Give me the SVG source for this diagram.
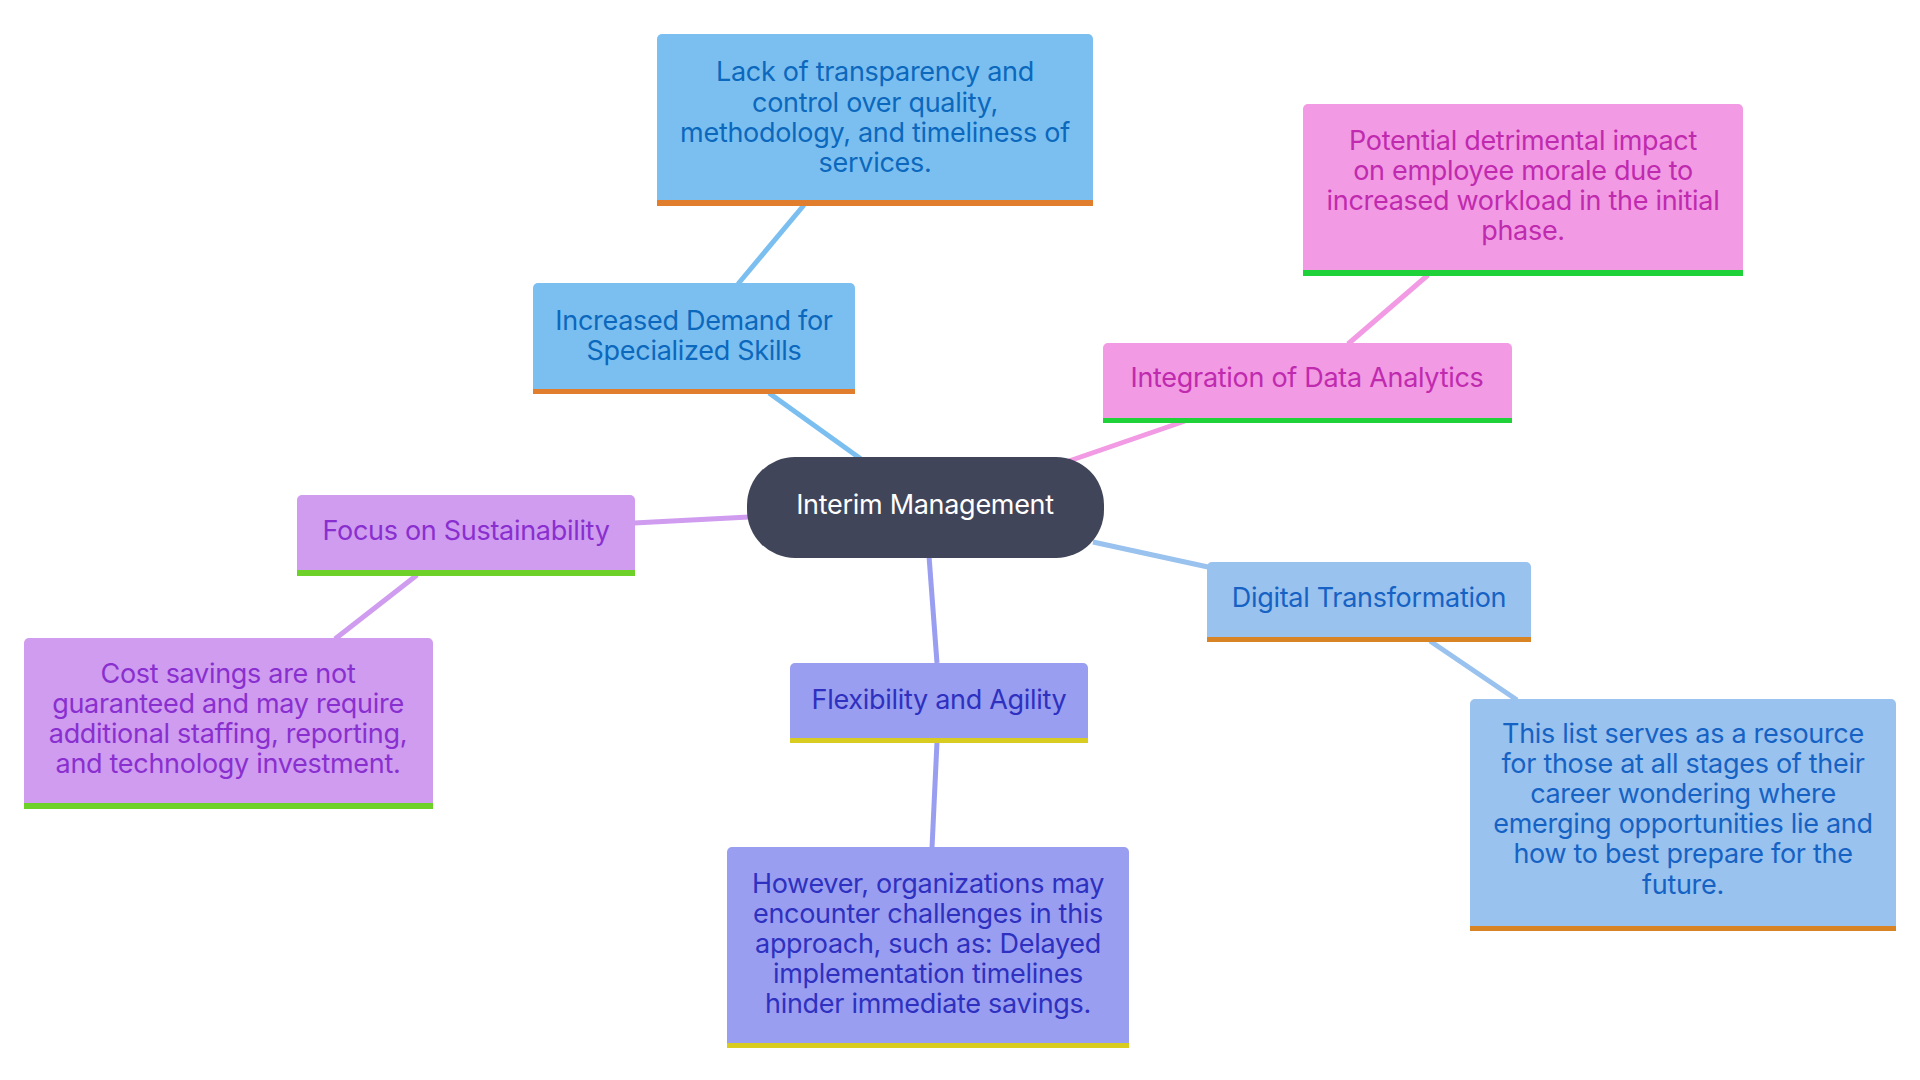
<svg xmlns="http://www.w3.org/2000/svg" width="1920" height="1080" viewBox="0 0 1920 1080">
<style>
text{font-family:Inter,"Noto Sans","Liberation Sans",sans-serif;font-size:27px;letter-spacing:-0.3px;text-anchor:middle}
.edge{fill:none;stroke-width:5;stroke-linecap:butt}
.blue rect.b{fill:#7bbff0}.blue .bar{fill:#e07e2e}.blue text{fill:#0b68bd}
.pink rect.b{fill:#f29ae3}.pink .bar{fill:#1fd23a}.pink text{fill:#c02aaf}
.purple rect.b{fill:#cf9cf0}.purple .bar{fill:#6dd12a}.purple text{fill:#8a2fcf}
.sky rect.b{fill:#99c2ee}.sky .bar{fill:#d88424}.sky text{fill:#1662c4}
.violet rect.b{fill:#9a9ef0}.violet .bar{fill:#d8cc20}.violet text{fill:#2e30c0}
</style>
<rect width="1920" height="1080" fill="#ffffff"/>
<g id="connectors">
<line class="edge" x1="861" y1="459" x2="769" y2="393" stroke="#7bbff0"/>
<line class="edge" x1="738" y1="284" x2="804" y2="205" stroke="#7bbff0"/>
<line class="edge" x1="1069" y1="461" x2="1185" y2="421" stroke="#f29ae3"/>
<line class="edge" x1="1348" y1="344" x2="1428" y2="275" stroke="#f29ae3"/>
<line class="edge" x1="749" y1="517" x2="634" y2="523" stroke="#cf9cf0"/>
<line class="edge" x1="417" y1="575" x2="335" y2="639" stroke="#cf9cf0"/>
<line class="edge" x1="1093" y1="542" x2="1208" y2="567" stroke="#99c2ee"/>
<line class="edge" x1="1430" y1="641" x2="1517" y2="700" stroke="#99c2ee"/>
<line class="edge" x1="929" y1="556" x2="937" y2="663" stroke="#9a9ef0"/>
<line class="edge" x1="937" y1="742" x2="932" y2="848" stroke="#9a9ef0"/>
</g>
<g id="node-central">
<rect x="747" y="457" width="357" height="101" rx="48" fill="#414559"/>
<text x="925" y="514" fill="#ffffff">Interim Management</text>
</g>
<g id="node-increased" class="blue">
<rect class="b" x="533" y="283" width="322" height="111" rx="5"/>
<rect class="bar" x="533" y="389" width="322" height="5"/>
<text x="694" y="330">Increased Demand for</text>
<text x="694" y="360">Specialized Skills</text>
</g>
<g id="node-lack" class="blue">
<rect class="b" x="657" y="34" width="436" height="172" rx="5"/>
<rect class="bar" x="657" y="200" width="436" height="6"/>
<text x="875" y="81">Lack of transparency and</text>
<text x="875" y="112">control over quality,</text>
<text x="875" y="142">methodology, and timeliness of</text>
<text x="875" y="172">services.</text>
</g>
<g id="node-integration" class="pink">
<rect class="b" x="1103" y="343" width="409" height="80" rx="5"/>
<rect class="bar" x="1103" y="418" width="409" height="5"/>
<text x="1307" y="387">Integration of Data Analytics</text>
</g>
<g id="node-potential" class="pink">
<rect class="b" x="1303" y="104" width="440" height="172" rx="5"/>
<rect class="bar" x="1303" y="270" width="440" height="6"/>
<text x="1523" y="150">Potential detrimental impact</text>
<text x="1523" y="180">on employee morale due to</text>
<text x="1523" y="210">increased workload in the initial</text>
<text x="1523" y="240">phase.</text>
</g>
<g id="node-focus" class="purple">
<rect class="b" x="297" y="495" width="338" height="81" rx="5"/>
<rect class="bar" x="297" y="570" width="338" height="6"/>
<text x="466" y="540">Focus on Sustainability</text>
</g>
<g id="node-cost" class="purple">
<rect class="b" x="24" y="638" width="409" height="171" rx="5"/>
<rect class="bar" x="24" y="803" width="409" height="6"/>
<text x="228" y="683">Cost savings are not</text>
<text x="228" y="713">guaranteed and may require</text>
<text x="228" y="743">additional staffing, reporting,</text>
<text x="228" y="773">and technology investment.</text>
</g>
<g id="node-digital" class="sky">
<rect class="b" x="1207" y="562" width="324" height="80" rx="5"/>
<rect class="bar" x="1207" y="637" width="324" height="5"/>
<text x="1369" y="607">Digital Transformation</text>
</g>
<g id="node-list" class="sky">
<rect class="b" x="1470" y="699" width="426" height="232" rx="5"/>
<rect class="bar" x="1470" y="926" width="426" height="5"/>
<text x="1683" y="743">This list serves as a resource</text>
<text x="1683" y="773">for those at all stages of their</text>
<text x="1683" y="803">career wondering where</text>
<text x="1683" y="833">emerging opportunities lie and</text>
<text x="1683" y="863">how to best prepare for the</text>
<text x="1683" y="894">future.</text>
</g>
<g id="node-flex" class="violet">
<rect class="b" x="790" y="663" width="298" height="80" rx="5"/>
<rect class="bar" x="790" y="738" width="298" height="5"/>
<text x="939" y="709">Flexibility and Agility</text>
</g>
<g id="node-however" class="violet">
<rect class="b" x="727" y="847" width="402" height="201" rx="5"/>
<rect class="bar" x="727" y="1043" width="402" height="5"/>
<text x="928" y="893">However, organizations may</text>
<text x="928" y="923">encounter challenges in this</text>
<text x="928" y="953">approach, such as: Delayed</text>
<text x="928" y="983">implementation timelines</text>
<text x="928" y="1013">hinder immediate savings.</text>
</g>
</svg>
